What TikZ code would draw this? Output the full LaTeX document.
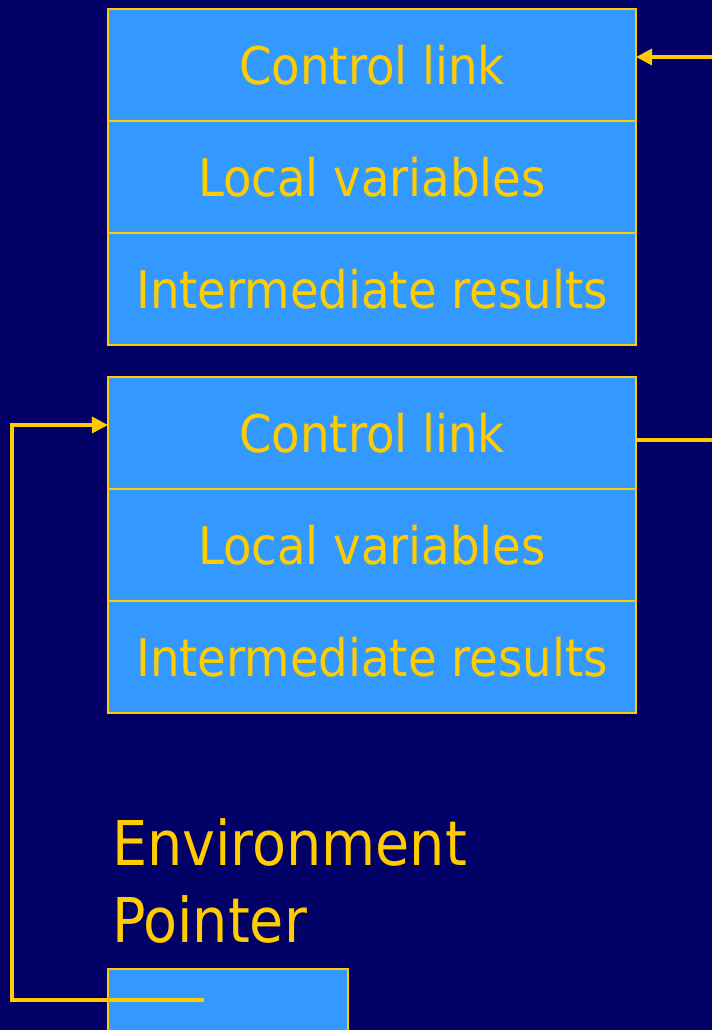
\documentclass[tikz,border=0pt]{standalone}
\usepackage{fontspec}
\newfontfamily\lblfont{DejaVu Sans Condensed}
\usetikzlibrary{arrows.meta}
\definecolor{bgnavy}{HTML}{000066}
\definecolor{cellblue}{HTML}{3399FF}
\definecolor{gold}{HTML}{FFCC00}
\tikzset{
  cell/.style={draw=gold, line width=2bp, fill=cellblue, text=gold,
    minimum width=528bp, minimum height=112bp, inner sep=0pt, outer sep=0pt,
    font=\lblfont\fontsize{52}{60}\selectfont},
  pointerbox/.style={draw=gold, line width=2bp, fill=cellblue,
    minimum width=240bp, minimum height=112bp, inner sep=0pt, outer sep=0pt},
  link/.style={draw=gold, line width=3.5bp},
  linkarrow/.style={link, -{Triangle[length=16bp, width=16bp]}}
}
\begin{document}
\begin{tikzpicture}[x=1bp, y=-1bp]
  \useasboundingbox (0,0) rectangle (712,1030);
  \fill[bgnavy] (0,0) rectangle (712,1030);
  \clip (0,0) rectangle (712,1030);

  % upper activation record
  \node[cell] (c1) at (372,65)  {Control link};
  \node[cell] (l1) at (372,177) {Local variables};
  \node[cell] (r1) at (372,289) {Intermediate results};

  % lower activation record
  \node[cell] (c2) at (372,433) {Control link};
  \node[cell] (l2) at (372,545) {Local variables};
  \node[cell] (r2) at (372,657) {Intermediate results};

  % environment pointer
  \node[anchor=base west, inner sep=0pt, text=gold, align=left,
        font=\lblfont\fontsize{62}{77}\selectfont] (eplabel) at (112,942)
        {Environment\\Pointer};
  \node[pointerbox, anchor=north west] (ep) at (108,969) {};

  % link endpoints
  \coordinate (inlink) at (712,57);
  \coordinate (outlink) at (712,440);
  \coordinate (epend) at (204,1000);
  \coordinate (epcorner) at (12,1000);
  \coordinate (eptop) at (12,425);

  % control links
  \draw[linkarrow] (inlink) -- (inlink -| c1.east);
  \draw[link] (outlink -| c2.east) -- (outlink);
  \draw[linkarrow] (epend) -- (epcorner) -- (eptop) -- (eptop -| c2.west);
\end{tikzpicture}
\end{document}
